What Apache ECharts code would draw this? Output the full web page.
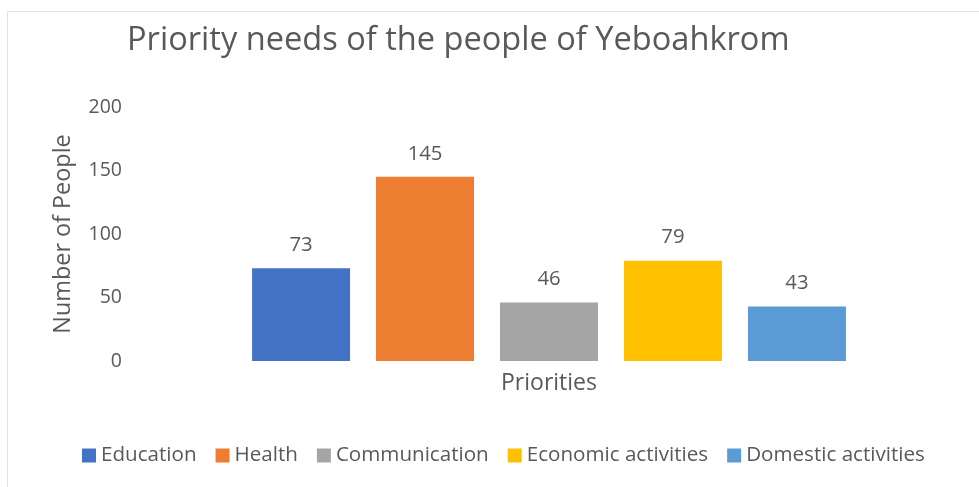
<!DOCTYPE html>
<html>
<head>
<meta charset="utf-8">
<script src="https://cdn.jsdelivr.net/npm/echarts@6/dist/echarts.min.js"></script>
<style>
  html, body { margin: 0; padding: 0; background: #fff; }
  #chart { width: 979px; height: 487px; }
</style>
</head>
<body>
<div id="chart"></div>
<script>
// Survey results: priority needs reported by residents
const categories = ['Priorities'];
const seriesNames = ['Education', 'Health', 'Communication', 'Economic activities', 'Domestic activities'];
const seriesValues = [73, 145, 46, 79, 43];
const seriesColors = ['#4472C4', '#ED7D31', '#A5A5A5', '#FFC000', '#5B9BD5'];
const yTicks = { min: 0, max: 200, interval: 50 };

const FONT = '"Open Sans", sans-serif';
const TEXT = '#595959';

const chart = echarts.init(document.getElementById('chart'), null, { renderer: 'canvas' });

const series = seriesNames.map((name, i) => ({
  name: name,
  type: 'bar',
  data: [seriesValues[i]],
  barWidth: 98,
  barGap: '26.5%',
  itemStyle: { color: seriesColors[i] },
  label: {
    show: true,
    position: 'top',
    distance: 13,
    color: TEXT,
    fontFamily: FONT,
    fontSize: 20.3
  }
}));

chart.setOption({
  animation: false,
  backgroundColor: '#fff',
  graphic: [{
    type: 'rect',
    shape: { x: 7.5, y: 11.5, width: 1000, height: 600 },
    style: { fill: 'none', stroke: '#e3e3e3', lineWidth: 1 },
    silent: true
  }],
  title: {
    text: 'Priority needs of the people of Yeboahkrom',
    left: 122,
    top: 19,
    textStyle: { fontFamily: FONT, fontWeight: 'normal', fontSize: 32.6, color: TEXT }
  },
  legend: {
    data: seriesNames,
    left: 77,
    top: 440,
    itemWidth: 14,
    itemHeight: 14,
    itemGap: 19,
    icon: 'rect',
    textStyle: { fontFamily: FONT, fontSize: 20.6, color: TEXT }
  },
  grid: { left: 130, right: 11, top: 107, bottom: 126 },
  xAxis: {
    type: 'category',
    data: categories,
    axisLine: { show: false },
    axisTick: { show: false },
    axisLabel: { show: false },
    name: categories[0],
    nameLocation: 'middle',
    nameGap: 11,
    nameTextStyle: { fontFamily: FONT, fontSize: 23, color: TEXT }
  },
  yAxis: {
    type: 'value',
    min: yTicks.min,
    max: yTicks.max,
    interval: yTicks.interval,
    axisLine: { show: false },
    axisTick: { show: false },
    splitLine: { show: false },
    axisLabel: { fontFamily: FONT, fontSize: 19.5, color: TEXT, margin: 8 },
    name: 'Number of People',
    nameLocation: 'middle',
    nameGap: 55,
    nameTextStyle: { fontFamily: FONT, fontSize: 23.4, color: TEXT }
  },
  series: series
});
</script>
</body>
</html>
